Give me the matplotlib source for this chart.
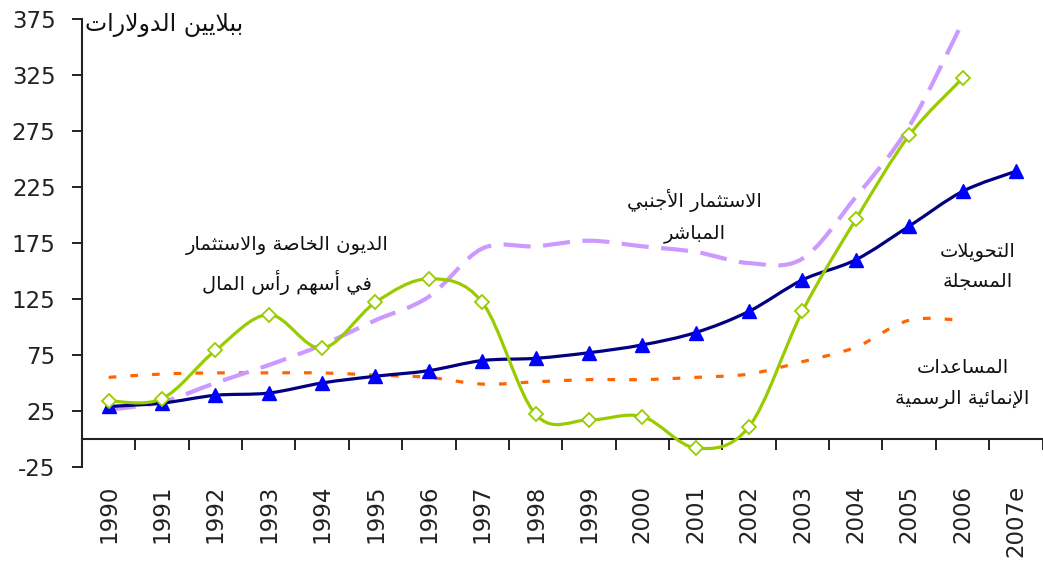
import matplotlib
matplotlib.use('Agg')

import matplotlib.pyplot as plt
import numpy as np
from matplotlib.path import Path
from matplotlib.patches import PathPatch

# ---------------------------
# DATA (billions of dollars)
# ---------------------------
years = ['1990', '1991', '1992', '1993', '1994', '1995', '1996', '1997', '1998',
         '1999', '2000', '2001', '2002', '2003', '2004', '2005', '2006', '2007e']

remittances = [29, 32, 39, 41, 50, 56, 61, 70, 72, 77, 84, 95, 114, 142, 160, 190, 221, 239]
private_flows = [34, 36, 79, 111, 81, 122, 143, 122, 22, 17, 20, -8, 11, 114, 196, 271, 322]
fdi = [26, 33, 50, 66, 84, 106, 127, 170, 172, 177, 172, 167, 157, 161, 216, 279, 372]
oda = [55, 58, 59, 59, 59, 57, 55, 49, 51, 53, 53, 55, 58, 69, 82, 106, 106]

unit_label = 'ببلايين الدولارات'
lbl_private = ['الديون الخاصة والاستثمار', 'في أسهم رأس المال']
lbl_fdi = ['الاستثمار الأجنبي', 'المباشر']
lbl_remit = ['التحويلات', 'المسجلة']
lbl_oda = ['المساعدات', 'الإنمائية الرسمية']

# ---------------------------
# ARABIC SHAPING (matplotlib has no complex text layout)
# isolated, final, initial, medial
# ---------------------------
FORMS = {
    'ء': (0xFE80,),
    'آ': (0xFE81, 0xFE82), 'أ': (0xFE83, 0xFE84), 'ؤ': (0xFE85, 0xFE86),
    'إ': (0xFE87, 0xFE88), 'ئ': (0xFE89, 0xFE8A, 0xFE8B, 0xFE8C),
    'ا': (0xFE8D, 0xFE8E), 'ب': (0xFE8F, 0xFE90, 0xFE91, 0xFE92),
    'ة': (0xFE93, 0xFE94), 'ت': (0xFE95, 0xFE96, 0xFE97, 0xFE98),
    'ث': (0xFE99, 0xFE9A, 0xFE9B, 0xFE9C), 'ج': (0xFE9D, 0xFE9E, 0xFE9F, 0xFEA0),
    'ح': (0xFEA1, 0xFEA2, 0xFEA3, 0xFEA4), 'خ': (0xFEA5, 0xFEA6, 0xFEA7, 0xFEA8),
    'د': (0xFEA9, 0xFEAA), 'ذ': (0xFEAB, 0xFEAC), 'ر': (0xFEAD, 0xFEAE),
    'ز': (0xFEAF, 0xFEB0), 'س': (0xFEB1, 0xFEB2, 0xFEB3, 0xFEB4),
    'ش': (0xFEB5, 0xFEB6, 0xFEB7, 0xFEB8), 'ص': (0xFEB9, 0xFEBA, 0xFEBB, 0xFEBC),
    'ض': (0xFEBD, 0xFEBE, 0xFEBF, 0xFEC0), 'ط': (0xFEC1, 0xFEC2, 0xFEC3, 0xFEC4),
    'ظ': (0xFEC5, 0xFEC6, 0xFEC7, 0xFEC8), 'ع': (0xFEC9, 0xFECA, 0xFECB, 0xFECC),
    'غ': (0xFECD, 0xFECE, 0xFECF, 0xFED0), 'ف': (0xFED1, 0xFED2, 0xFED3, 0xFED4),
    'ق': (0xFED5, 0xFED6, 0xFED7, 0xFED8), 'ك': (0xFED9, 0xFEDA, 0xFEDB, 0xFEDC),
    'ل': (0xFEDD, 0xFEDE, 0xFEDF, 0xFEE0), 'م': (0xFEE1, 0xFEE2, 0xFEE3, 0xFEE4),
    'ن': (0xFEE5, 0xFEE6, 0xFEE7, 0xFEE8), 'ه': (0xFEE9, 0xFEEA, 0xFEEB, 0xFEEC),
    'و': (0xFEED, 0xFEEE), 'ى': (0xFEEF, 0xFEF0),
    'ي': (0xFEF1, 0xFEF2, 0xFEF3, 0xFEF4),
}
LAM_ALEF = {'آ': (0xFEF5, 0xFEF6), 'أ': (0xFEF7, 0xFEF8),
            'إ': (0xFEF9, 0xFEFA), 'ا': (0xFEFB, 0xFEFC)}


def shape(text):
    items = []
    i = 0
    while i < len(text):
        c = text[i]
        if c == 'ل' and i + 1 < len(text) and text[i + 1] in LAM_ALEF:
            items.append(('LA', text[i + 1]))
            i += 2
        else:
            items.append(c)
            i += 1

    def dual(it):
        return isinstance(it, str) and it in FORMS and len(FORMS[it]) == 4

    def arabic(it):
        return isinstance(it, tuple) or it in FORMS

    out = []
    for k, it in enumerate(items):
        prev = items[k - 1] if k > 0 else None
        nxt = items[k + 1] if k + 1 < len(items) else None
        cp = prev is not None and dual(prev)
        if isinstance(it, tuple):
            iso, fin = LAM_ALEF[it[1]]
            out.append(chr(fin if cp else iso))
            continue
        if it not in FORMS:
            out.append(it)
            continue
        f = FORMS[it]
        cn = dual(it) and nxt is not None and arabic(nxt)
        if cp and cn:
            out.append(chr(f[3]))
        elif cp and len(f) > 1:
            out.append(chr(f[1]))
        elif cn:
            out.append(chr(f[2]))
        else:
            out.append(chr(f[0]))
    return ''.join(reversed(out))


def ar(lines):
    return '\n'.join(shape(l) for l in lines)


# ---------------------------
# SMOOTH LINE (excel-style bezier)
# ---------------------------
def smooth_path(x, y):
    pts = np.column_stack([x, y]).astype(float)
    p = np.vstack([pts[0], pts, pts[-1]])
    verts = [pts[0]]
    codes = [Path.MOVETO]
    for i in range(1, len(p) - 2):
        p0, p1, p2, p3 = p[i - 1], p[i], p[i + 1], p[i + 2]
        verts += [p1 + (p2 - p0) / 6, p2 - (p3 - p1) / 6, p2]
        codes += [Path.CURVE4] * 3
    return Path(verts, codes)


def smooth_line(ax, y, **kw):
    x = np.arange(len(y))
    ax.add_patch(PathPatch(smooth_path(x, y), fill=False, **kw))


plt.rcParams['font.family'] = ['DejaVu Sans']
plt.rcParams['axes.unicode_minus'] = False

fig = plt.figure(figsize=(10.43, 5.65), dpi=100)
ax = fig.add_axes([0.0786, 0.1735, 0.921, 0.793])

# ---------------------------
# SERIES
# ---------------------------
smooth_line(ax, oda, edgecolor='#FF6600', lw=2.3, linestyle=(0, (2.4, 4.4)), zorder=2)
smooth_line(ax, fdi, edgecolor='#CC99FF', lw=3.0, linestyle=(0, (6.5, 3.0)), zorder=2)
smooth_line(ax, remittances, edgecolor='#000080', lw=2.3, zorder=3)
ax.plot(range(len(remittances)), remittances, ls='none', marker='^', ms=10,
        color='#0000FF', zorder=4)
smooth_line(ax, private_flows, edgecolor='#99CC00', lw=2.3, zorder=5)
ax.plot(range(len(private_flows)), private_flows, ls='none', marker='D', ms=7,
        mfc='white', mec='#99CC00', mew=1.3, zorder=6)

# ---------------------------
# AXES
# ---------------------------
ax.set_xlim(-0.5, len(years) - 0.5)
ax.set_ylim(-25, 375)
ax.set_yticks(np.arange(-25, 376, 50))

ax.set_xticks(range(len(years)))
ax.set_xticklabels(years)
ax.set_xticks(np.arange(0.5, len(years)), minor=True)
ax.tick_params(axis='x', which='major', length=0, pad=33, labelsize=16.5,
               labelrotation=90, labelcolor='#222222')
ax.tick_params(axis='x', which='minor', length=8, width=1.4, color='#222222')
ax.tick_params(axis='y', length=7, width=1.4, pad=12, labelsize=16.5,
               color='#222222', labelcolor='#222222')

ax.spines['bottom'].set_position(('data', 0))
for s in ['bottom', 'left']:
    ax.spines[s].set_linewidth(1.5)
    ax.spines[s].set_color('#222222')
ax.spines['top'].set_visible(False)
ax.spines['right'].set_visible(False)

# ---------------------------
# LABELS
# ---------------------------
tkw = dict(fontsize=14, ha='center', va='center', linespacing=1.75,
           multialignment='center', color='#111111')
ax.text(-0.45, 370, shape(unit_label), fontsize=17, ha='left', va='center',
        color='#111111')
ax.text(3.34, 155, ar(lbl_private), **tkw)
ax.text(10.98, 199, ar(lbl_fdi), **tkw)
ax.text(16.28, 154, ar(lbl_remit), **tkw)
ax.text(16.0, 50, ar(lbl_oda), **tkw)

fig.savefig('out.png', dpi=100)
